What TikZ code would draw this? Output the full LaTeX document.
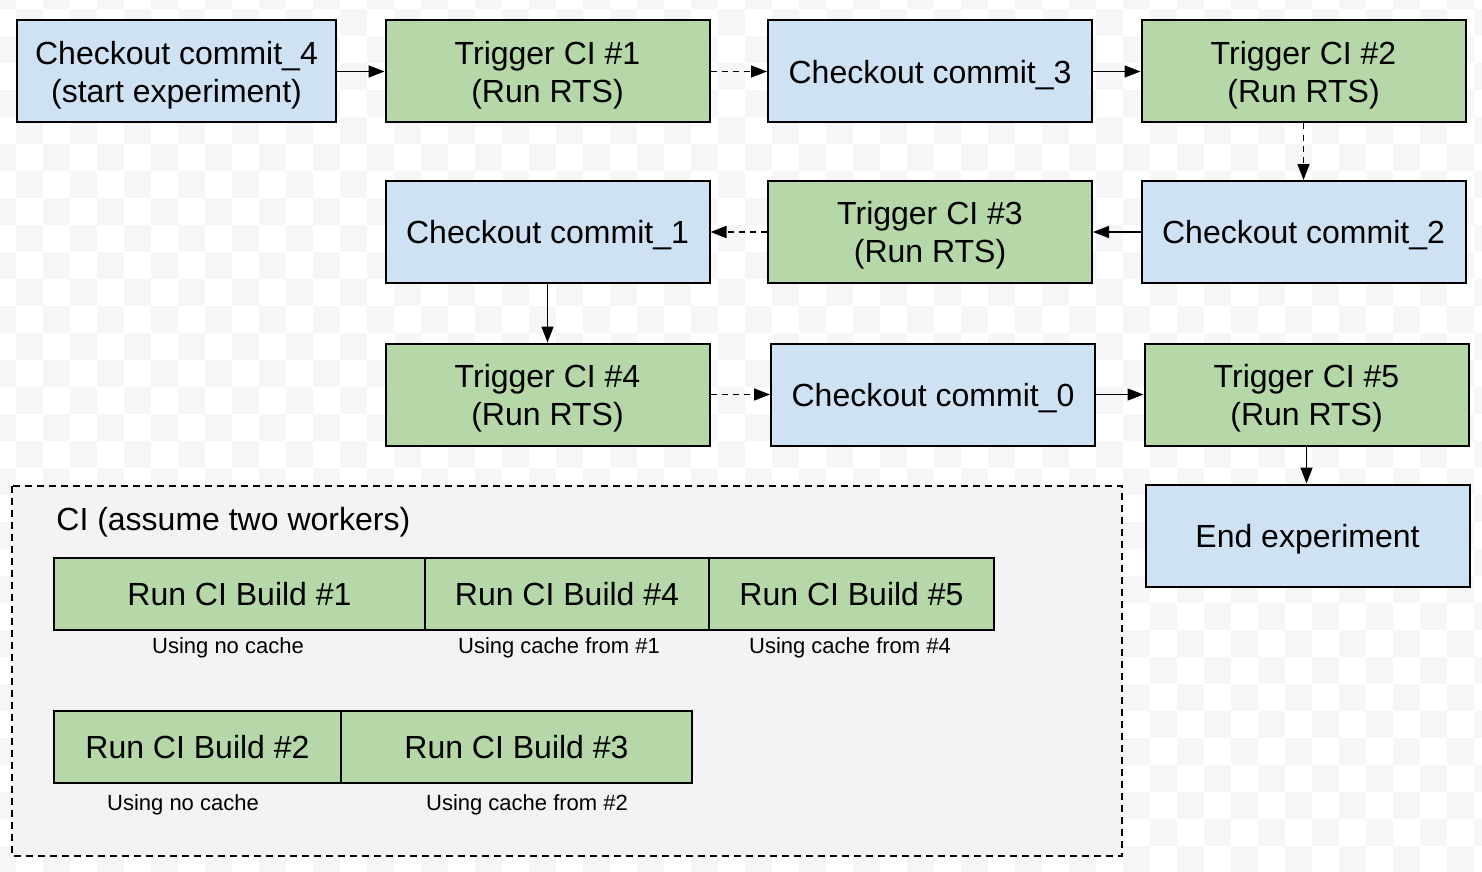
\documentclass[tikz,border=0pt]{standalone}
\usepackage{fontspec}
\setmainfont{Liberation Sans}
\usepackage{tikz}
\usetikzlibrary{arrows.meta, positioning}
\definecolor{blu}{HTML}{CFE2F3}
\definecolor{verde}{HTML}{B6D7A8}
\definecolor{grigio}{HTML}{F3F3F3}
\definecolor{scacco}{HTML}{F6F6F6}

\begin{document}
\begin{tikzpicture}[x = 0.5pt, y = -0.5pt,
    box/.style = {draw, line width = 1pt, minimum width = 162pt, minimum height = 51pt,
        inner sep = 0pt, text depth = 0pt, align = center, font = \fontsize{16}{19}\selectfont},
    bluebox/.style = {box, fill = blu},
    greenbox/.style = {box, fill = verde},
    buildbox/.style = {draw, line width = 1pt, fill = verde, minimum height = 36pt,
        inner sep = 0pt, outer sep = 0pt, text depth = 0pt, font = \fontsize{16}{19}\selectfont},
    note/.style = {inner sep = 0pt, font = \fontsize{11}{13}\selectfont},
    freccia/.style = {-{Triangle[length = 8pt, width = 6pt]}, line width = 0.75pt},
    tratteggio/.style = {freccia, dash pattern = on 3pt off 2.5pt}]
    % Sfondo
    \useasboundingbox (0,0) rectangle (1482,872);
    \clip (0,0) rectangle (1482,872);
    \fill[white] (0,0) rectangle (1482,872);
    \foreach \k in {0,...,55} {
        \pgfmathtruncatemacro{\s}{mod(\k,2)}
        \foreach \m in {\s,...,34} {
            \pgfmathtruncatemacro{\p}{mod(\m+\k,2)}
            \ifnum\p=0
                \fill[scacco] ({-11+27*\k},{-18+27*\m}) rectangle ++(27,27);
            \fi
        }
    }
    % Riquadro CI
    \draw[fill = grigio, line width = 0.75pt, dash pattern = on 3.5pt off 2.5pt] (12,486) rectangle (1122,856);
    \node[anchor = west, inner sep = 0pt, font = \fontsize{16}{19}\selectfont] (titolo) at (56,522) {CI (assume two workers)};
    % Passi dell'esperimento
    \node[bluebox, minimum width = 159.5pt] (c4) at (176.5,71.5) {Checkout commit\_4\\(start experiment)};
    \node[greenbox] (t1) at (547.5,71.5) {Trigger CI \#1\\(Run RTS)};
    \node[bluebox] (c3) at (930,71.5) {Checkout commit\_3};
    \node[greenbox] (t2) at (1303.5,71.5) {Trigger CI \#2\\(Run RTS)};
    \node[bluebox] (c1) at (547.5,232) {Checkout commit\_1};
    \node[greenbox] (t3) at (930,232) {Trigger CI \#3\\(Run RTS)};
    \node[bluebox] (c2) at (1303.5,232) {Checkout commit\_2};
    \node[greenbox] (t4) at (547.5,394.5) {Trigger CI \#4\\(Run RTS)};
    \node[bluebox] (c0) at (933,394.5) {Checkout commit\_0};
    \node[greenbox] (t5) at (1306.5,394.5) {Trigger CI \#5\\(Run RTS)};
    \node[bluebox] (fine) at (1307.5,535.5) {End experiment};
    % Frecce
    \draw[freccia] (c4) -- (t1);
    \draw[tratteggio] (t1) -- (c3);
    \draw[freccia] (c3) -- (t2);
    \draw[tratteggio] (t2) -- (c2);
    \draw[freccia] (c2) -- (t3);
    \draw[tratteggio] (t3) -- (c1);
    \draw[freccia] (c1) -- (t4);
    \draw[tratteggio] (t4) -- (c0);
    \draw[freccia] (c0) -- (t5);
    \draw[freccia] (t5.south) -- (t5.south |- fine.north);
    % Build (primo worker)
    \node[buildbox, minimum width = 185.5pt] (b1) at (239.5,594) {Run CI Build \#1};
    \node[buildbox, minimum width = 142pt, right = 0pt of b1] (b4) {Run CI Build \#4};
    \node[buildbox, minimum width = 142.5pt, right = 0pt of b4] (b5) {Run CI Build \#5};
    \node[note] (n1) at (228,648) {Using no cache};
    \node[note] (n4) at (559,648) {Using cache from \#1};
    \node[note] (n5) at (850,648) {Using cache from \#4};
    % Build (secondo worker)
    \node[buildbox, minimum width = 143.5pt] (b2) at (197.5,747) {Run CI Build \#2};
    \node[buildbox, minimum width = 175.5pt, right = 0pt of b2] (b3) {Run CI Build \#3};
    \node[note] (n2) at (183,805) {Using no cache};
    \node[note] (n3) at (527,805) {Using cache from \#2};
\end{tikzpicture}
\end{document}
